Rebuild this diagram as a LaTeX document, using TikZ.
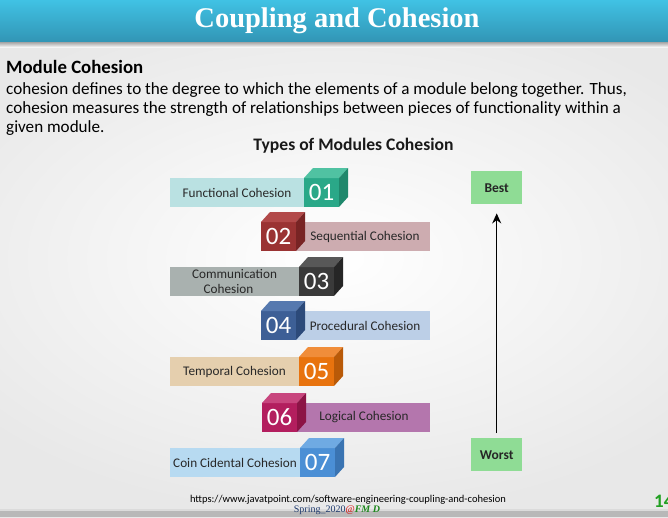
\documentclass[tikz,border=0pt]{standalone}
\usepackage{fontspec}
\setmainfont{Carlito}
\newfontfamily\serifface{Liberation Serif}
\usetikzlibrary{calc,arrows.meta}

% palette
\definecolor{hdtop}{RGB}{64,194,228}
\definecolor{hdbot}{RGB}{50,150,182}
\definecolor{barA}{RGB}{186,225,226}\definecolor{frA}{RGB}{42,168,136}\definecolor{tpA}{RGB}{80,194,162}\definecolor{sdA}{RGB}{31,136,108}
\definecolor{barB}{RGB}{205,172,176}\definecolor{frB}{RGB}{154,51,51}\definecolor{tpB}{RGB}{178,74,74}\definecolor{sdB}{RGB}{120,36,36}
\definecolor{barC}{RGB}{169,177,175}\definecolor{frC}{RGB}{58,58,58}\definecolor{tpC}{RGB}{88,88,88}\definecolor{sdC}{RGB}{38,38,38}
\definecolor{barD}{RGB}{188,207,231}\definecolor{frD}{RGB}{61,95,150}\definecolor{tpD}{RGB}{86,121,175}\definecolor{sdD}{RGB}{44,74,122}
\definecolor{barE}{RGB}{229,207,174}\definecolor{frE}{RGB}{232,115,14}\definecolor{tpE}{RGB}{240,141,58}\definecolor{sdE}{RGB}{185,90,8}
\definecolor{barF}{RGB}{180,118,173}\definecolor{frF}{RGB}{179,30,94}\definecolor{tpF}{RGB}{200,70,126}\definecolor{sdF}{RGB}{140,20,70}
\definecolor{barG}{RGB}{183,218,241}\definecolor{frG}{RGB}{75,143,213}\definecolor{tpG}{RGB}{111,170,227}\definecolor{sdG}{RGB}{58,116,178}
\definecolor{rankgreen}{RGB}{143,220,149}
\definecolor{navy}{RGB}{31,58,110}
\definecolor{pagegreen}{RGB}{34,160,34}
\definecolor{txt}{RGB}{40,40,40}

\tikzset{
  cubefront/.style={inner sep=0pt, outer sep=0pt, minimum width=35pt, minimum height=29pt,
    text=white, font=\fontsize{25}{25}\selectfont},
  bar/.style={inner sep=0pt, outer sep=0pt, minimum height=29pt, text=txt,
    font=\fontsize{13.2}{14.5}\selectfont, align=center},
  rankbox/.style={fill=rankgreen, inner sep=0pt, minimum width=51pt, minimum height=33pt,
    font=\bfseries\fontsize{13.5}{14}\selectfont, text=black!85}
}

% a numbered block: name, left x, top y, front, top face, side face, number
\newcommand\cohcube[7]{%
  \node[cubefront, fill=#4, anchor=north west] (#1) at (#2,#3) {#7};
  \fill[#5] (#1.north west) -- ++(9,-10) -- ($(#1.north east)+(9,-10)$) -- (#1.north east) -- cycle;
  \fill[#6] (#1.north east) -- ++(9,-10) -- ++(0,29) -- (#1.south east) -- cycle;
}

\begin{document}
\begin{tikzpicture}[x=1pt,y=-1pt]
\useasboundingbox (0,0) rectangle (668,517);
\clip (0,0) rectangle (668,517);

% slide background
\shade[inner color=white, outer color=black!9] (-120,0) rectangle (788,517);
\shade[top color=black!42, bottom color=black!4] (0,41) rectangle (668,47);
\shade[top color=hdtop, bottom color=hdbot] (0,0) rectangle (668,41);
\fill[black!28] (0,511) rectangle (668,517);
\fill[black!14] (0,509) rectangle (668,511);

% heading
\node[text=white, font=\serifface\bfseries\fontsize{28.5}{28.5}\selectfont] (title) at (337,21) {Coupling and Cohesion};

% introduction
\node[anchor=base west, inner sep=0pt, font=\bfseries\fontsize{18.8}{20}\selectfont, text=black] (head) at (6,73) {Module Cohesion};
\node[anchor=north west, inner sep=0pt, align=left, text=black, font=\fontsize{17.1}{19.3}\selectfont] (body) at (6,82)
 {cohesion defines to the degree to which the elements of a module belong together. Thus,\\
  cohesion measures the strength of relationships between pieces of functionality within a\\
  given module.};
\node[anchor=base, inner sep=0pt, font=\bfseries\fontsize{17.6}{19}\selectfont, text=black!90] (types) at (353.5,150) {Types of Modules Cohesion};

% 01
\node[bar, fill=barA, minimum width=134pt, anchor=north west] (b1) at (170,178) {Functional Cohesion};
\cohcube{c1}{304}{178}{frA}{tpA}{sdA}{01}
% 02
\node[bar, fill=barB, minimum width=134pt, anchor=north west] (b2) at (296,222) {\hspace*{4pt}Sequential Cohesion};
\cohcube{c2}{261}{222}{frB}{tpB}{sdB}{02}
% 03
\node[bar, fill=barC, minimum width=129pt, anchor=north west] (b3) at (170,267) {\fontsize{13.2}{14.5}\selectfont Communication\\Cohesion\hspace*{0pt}\hspace*{12pt}};
\cohcube{c3}{299}{267}{frC}{tpC}{sdC}{03}
% 04
\node[bar, fill=barD, minimum width=134pt, anchor=north west] (b4) at (296,311) {\hspace*{4pt}Procedural Cohesion};
\cohcube{c4}{261}{311}{frD}{tpD}{sdD}{04}
% 05
\node[bar, fill=barE, minimum width=129pt, anchor=north west] (b5) at (170,357) {Temporal Cohesion};
\cohcube{c5}{299}{357}{frE}{tpE}{sdE}{05}
% 06
\node[bar, fill=barF, minimum width=134pt, anchor=north west] (b6) at (296,403) {\hspace*{2pt}Logical Cohesion};
\cohcube{c6}{262}{403}{frF}{tpF}{sdF}{06}
% 07
\node[bar, fill=barG, minimum width=130pt, anchor=north west] (b7) at (170,448) {Coin Cidental Cohesion};
\cohcube{c7}{300}{448}{frG}{tpG}{sdG}{07}

% ranking scale
\node[rankbox, anchor=north west] (best) at (471,171) {Best};
\node[rankbox, anchor=north west] (worst) at (471,438) {Worst};
\draw[black, line width=1.3pt, -{Stealth[length=10pt,width=9pt]}, shorten <=5pt, shorten >=9pt] (worst.north) -- (best.south);

% footer
\node[font=\fontsize{10.5}{12}\selectfont, text=black, inner sep=0pt] (url) at (348,500) {https://www.javatpoint.com/software-engineering-coupling-and-cohesion};
\node[inner sep=0pt, font=\serifface\fontsize{10}{12}\selectfont] (spring) at (337,510)
 {\textcolor{navy}{Spring\_2020}\textcolor{red!85!black}{@}\textcolor{pagegreen!85!black}{\bfseries\itshape FM D}};
\node[anchor=base west, inner sep=0pt, text=pagegreen, font=\bfseries\fontsize{19}{20}\selectfont] (page) at (654,507) {14};
\end{tikzpicture}
\end{document}
